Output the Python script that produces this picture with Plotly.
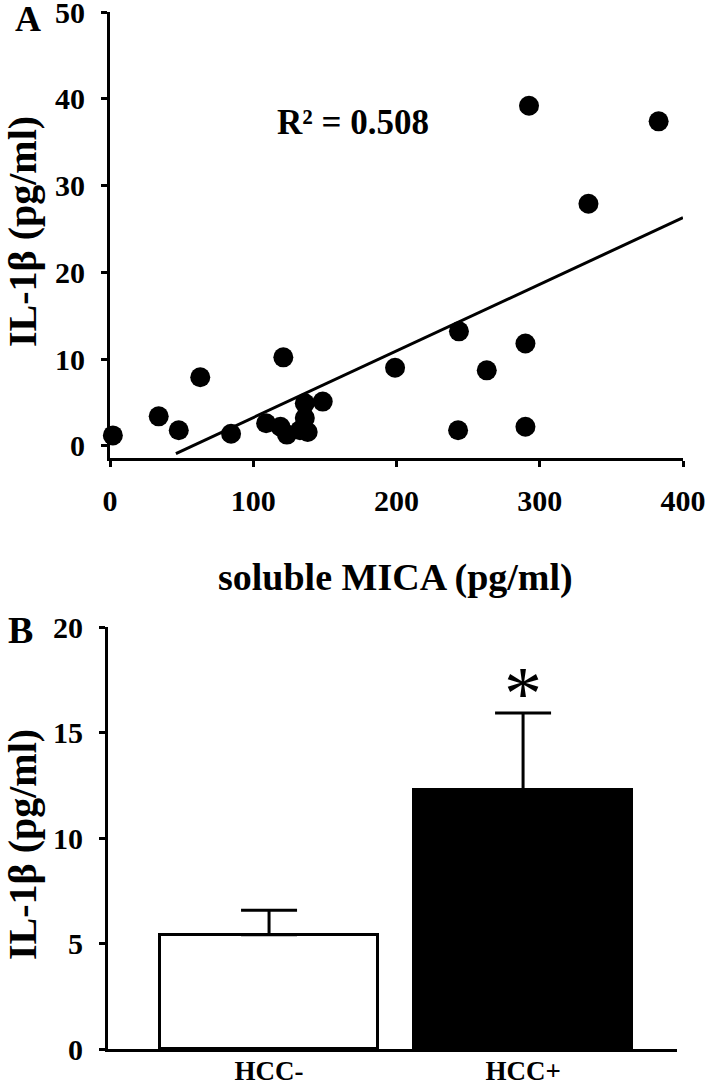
import plotly.graph_objects as go

# ---------------- Data ----------------
# Panel A: scatter of soluble MICA vs IL-1beta
mica_pg_ml = [2, 34, 48, 63, 84.5, 109, 119, 121, 123.5, 132.6, 136, 136, 138,
              148.5, 199, 243, 243.6, 263, 290, 290, 292.5, 334, 383]
il1b_pg_ml = [1.2, 3.4, 1.8, 7.9, 1.4, 2.6, 2.2, 10.2, 1.3, 1.8, 3.2, 4.9, 1.6,
              5.1, 9.0, 1.8, 13.2, 8.7, 11.8, 2.2, 39.2, 27.9, 37.4]
trend_slope = 0.0768
trend_intercept = -4.42
trend_x = [46, 400]
r_squared_label = "R² = 0.508"

a_xticks = [0, 100, 200, 300, 400]
a_yticks = [0, 10, 20, 30, 40, 50]

# Panel B: bar chart of IL-1beta by group
groups = ["HCC-", "HCC+"]
group_means = [5.42, 12.27]
group_errors = [1.15, 3.65]
bar_fill = ["white", "black"]
b_yticks = [0, 5, 10, 15, 20]
significance_mark = "*"

trend_y = [trend_slope * x + trend_intercept for x in trend_x]

FONT = "Liberation Serif"
W, H = 708, 1086

fig = go.Figure()

# Panel A
fig.add_trace(go.Scatter(
    x=mica_pg_ml, y=il1b_pg_ml, mode="markers",
    marker=dict(color="black", size=20, line=dict(width=0)),
    cliponaxis=False, xaxis="x", yaxis="y", showlegend=False))
fig.add_trace(go.Scatter(
    x=trend_x, y=trend_y, mode="lines",
    line=dict(color="black", width=3),
    cliponaxis=False, xaxis="x", yaxis="y", showlegend=False))

# Panel B
fig.add_trace(go.Bar(
    x=[0, 1], y=group_means, width=0.86,
    marker=dict(color=bar_fill, line=dict(color="black", width=3)),
    error_y=dict(type="data", array=group_errors, arrayminus=[0, 0],
                 symmetric=False, color="black", thickness=3, width=28),
    xaxis="x2", yaxis="y2", showlegend=False))

tickfont = dict(family=FONT, size=30, color="black", weight="bold")
axis_common = dict(showline=True, linecolor="black", linewidth=3,
                   ticks="outside", ticklen=6, tickwidth=3, tickcolor="black",
                   showgrid=False, zeroline=False, tickfont=tickfont,
                   automargin=False, ticklabeloverflow="allow")

fig.update_layout(
    width=W, height=H,
    margin=dict(l=0, r=0, t=0, b=0),
    paper_bgcolor="white", plot_bgcolor="white",
    font=dict(family=FONT, color="black"),
    xaxis=dict(domain=[110 / W, 683 / W], range=[0, 400], tickvals=a_xticks,
               anchor="y", ticklabelstandoff=8, **axis_common),
    yaxis=dict(domain=[1 - 458 / H, 1 - 12 / H], range=[-1.4, 50], tickvals=a_yticks,
               anchor="x", ticklabelstandoff=10, **axis_common),
    xaxis2=dict(domain=[108 / W, 677 / W], range=[-0.634, 1.606], tickvals=[0, 1],
                ticktext=groups, anchor="y2", automargin=False,
                ticklabeloverflow="allow",
                showline=True, linecolor="black", linewidth=3, ticks="",
                showgrid=False, zeroline=False,
                tickfont=dict(family=FONT, size=27, color="black", weight="bold"),
                ticklabelstandoff=-4),
    yaxis2=dict(domain=[1 - 1049 / H, 1 - 627 / H], range=[0, 20], tickvals=b_yticks,
                anchor="x2", ticklabelstandoff=10, **axis_common),
    bargap=0,
)

bold = lambda s: f"<b>{s}</b>"
base = dict(xref="paper", yref="paper", showarrow=False,
            xanchor="center", yanchor="middle")
ann = []
ann.append(dict(text=bold("A"), x=28.5 / W, y=1 - 19 / H,
                font=dict(family=FONT, size=36), **base))
ann.append(dict(text=bold("B"), x=20.5 / W, y=1 - 630 / H,
                font=dict(family=FONT, size=38), **base))
ann.append(dict(text=bold(r_squared_label), x=353 / W, y=1 - 123 / H,
                font=dict(family=FONT, size=35), **base))
ann.append(dict(text=bold("IL-1β (pg/ml)"), x=22 / W, y=1 - 232 / H, textangle=-90,
                font=dict(family=FONT, size=40), **base))
ann.append(dict(text=bold("IL-1β (pg/ml)"), x=22 / W, y=1 - 845 / H, textangle=-90,
                font=dict(family=FONT, size=40), **base))
ann.append(dict(text=bold("soluble MICA (pg/ml)"), x=395 / W, y=1 - 577 / H,
                font=dict(family=FONT, size=38), **base))
ann.append(dict(text=significance_mark, x=1, y=group_means[1] + group_errors[1] + 0.95,
                xref="x2", yref="y2", showarrow=False, xanchor="center",
                yanchor="middle", font=dict(family=FONT, size=76)))
fig.update_layout(annotations=ann)

fig.write_html("out.html",
               config={"displayModeBar": False},
               post_script="document.body.style.margin='0';"
                           "document.body.style.overflow='hidden';")
